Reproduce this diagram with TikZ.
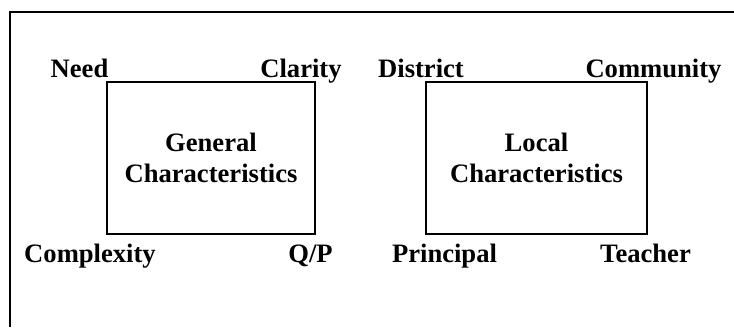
\documentclass[tikz,border=0pt]{standalone}
\usepackage{fontspec}
\setmainfont{Liberation Serif}
\begin{document}
\begin{tikzpicture}[x=1pt, y=-1pt, line width=1.5pt]
                        \tikzstyle{frame} = [line width=1.5pt]
                        \tikzstyle{group} = [draw, line width=1.5pt, minimum width=208pt, minimum height=152pt, align=center, inner sep=0pt, font=\fontsize{26.6}{31}\selectfont\bfseries]
                        \tikzstyle{factor} = [anchor=base, inner sep=0pt, font=\fontsize{26.6}{31}\selectfont\bfseries]
                        \useasboundingbox (0,0) rectangle (734,327);
                        % outer frame (cut at right and bottom)
                        \draw[frame] (10,327) -- (10,12) -- (734,12);
                        % the two groups
                        \node[group] (general) at (211,158) {General\\Characteristics};
                        \node[group, minimum width=221pt] (local) at (536.5,158) {Local\\Characteristics};
                        % corner factors
                        \node[factor] (need) at (79.5,77) {Need};
                        \node[factor] (clarity) at (301,77) {Clarity};
                        \node[factor] (complexity) at (90,262) {Complexity};
                        \node[factor] (qp) at (310.5,262) {Q/P};
                        \node[factor] (district) at (421,77) {District};
                        \node[factor] (community) at (653.5,77) {Community};
                        \node[factor] (principal) at (444.5,262) {Principal};
                        \node[factor] (teacher) at (645.5,262) {Teacher};
                    \end{tikzpicture}
\end{document}
